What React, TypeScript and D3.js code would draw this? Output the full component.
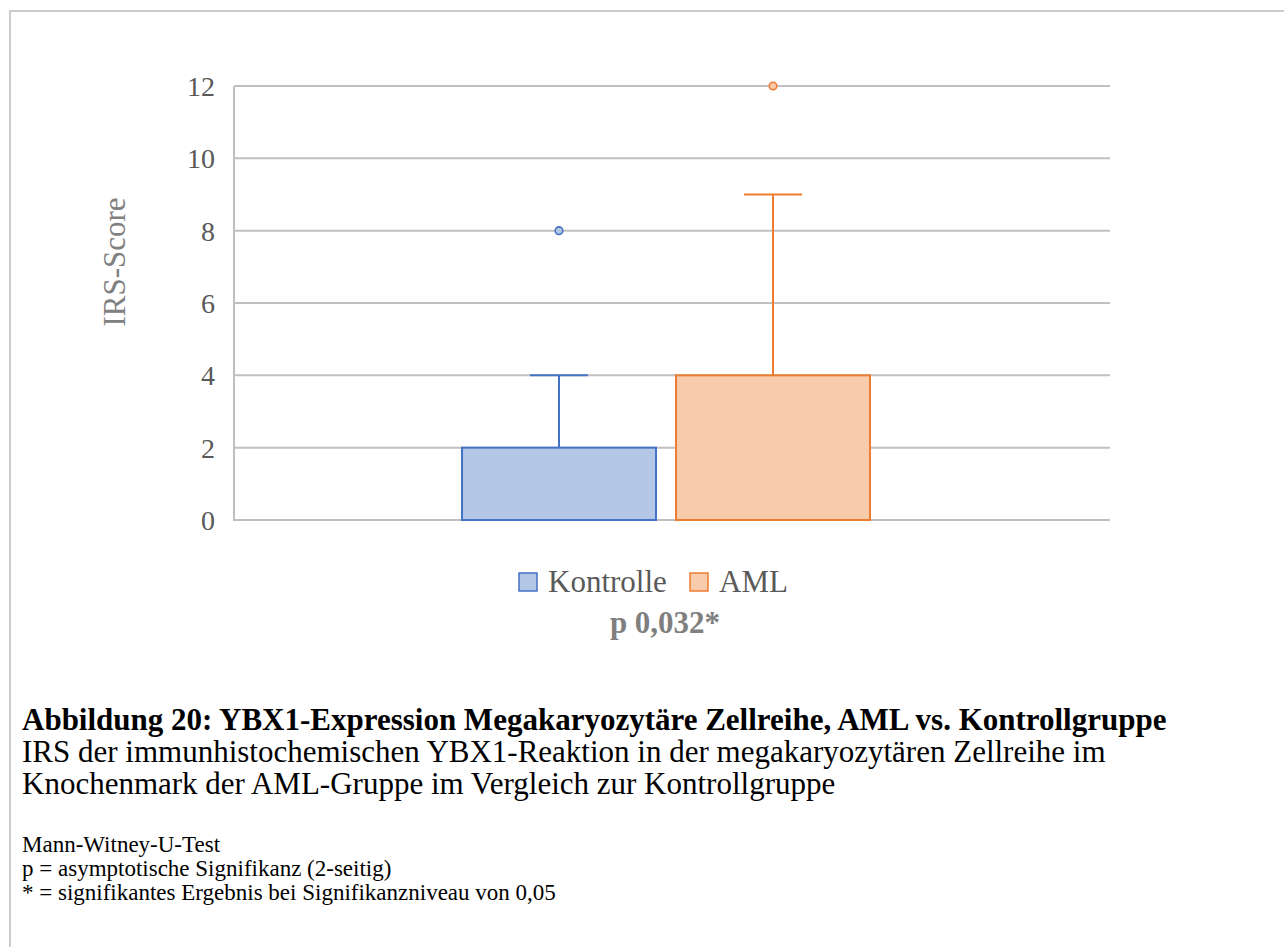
import React from "react";
import * as d3 from "d3";

const series = ["Kontrolle", "AML"];
const q1 = [0, 0];
const median = [0, 0];
const q3 = [2, 4];
const whiskerMin = [0, 0];
const whiskerMax = [4, 9];
const outliers = [[8], [12]];
const yTicks = [0, 2, 4, 6, 8, 10, 12];
const strokeColors = ["#4472c4", "#ed7d31"];
const fillColors = ["#b4c7e7", "#f8cbad"];
const pValue = "p 0,032*";
const captionTitle = "Abbildung 20: YBX1-Expression Megakaryozytäre Zellreihe, AML vs. Kontrollgruppe";
const captionLines = [
  "IRS der immunhistochemischen YBX1-Reaktion in der megakaryozytären Zellreihe im",
  "Knochenmark der AML-Gruppe im Vergleich zur Kontrollgruppe",
];
const notes = [
  "Mann-Witney-U-Test",
  "p = asymptotische Signifikanz (2-seitig)",
  "* = signifikantes Ergebnis bei Signifikanzniveau von 0,05",
];

export default function App() {
  const W = 1284, H = 947;
  const left = 234, right = 1110, top = 86, bottom = 520;
  const y = d3.scaleLinear().domain([0, 12]).range([bottom, top]);
  const x = d3.scaleBand<string>().domain(series).range([left - 6, right - 6]).paddingInner(0.0935).paddingOuter(1.0935);
  const bw = x.bandwidth();
  const capW = 58;
  const font = "'Liberation Serif', 'Times New Roman', serif";

  return (
    <svg width={W} height={H} style={{ position: "absolute", left: 0, top: 0, background: "#fff" }} fontFamily={font}>
      {/* page frame */}
      <line x1={10} y1={11} x2={10} y2={H} stroke="#cccccc" strokeWidth={2} />
      <line x1={9} y1={11} x2={W} y2={11} stroke="#cccccc" strokeWidth={2} />

      {/* gridlines */}
      {yTicks.map((t) => (
        <line key={t} x1={left} x2={right} y1={y(t)} y2={y(t)} stroke="#c0c0c0" strokeWidth={2} />
      ))}
      <line x1={left} x2={left} y1={top} y2={bottom + 1} stroke="#c0c0c0" strokeWidth={2} />

      {/* tick labels */}
      {yTicks.map((t) => (
        <text key={t} x={215} y={y(t) + 10} textAnchor="end" fontSize={28} fill="#595959">{t}</text>
      ))}
      <text transform={`translate(125,262) rotate(-90)`} textAnchor="middle" fontSize={31} fill="#808080">IRS-Score</text>

      {/* boxes */}
      {series.map((s, i) => {
        const x0 = x(s)!;
        const cx = x0 + bw / 2;
        return (
          <g key={s}>
            <line x1={cx} x2={cx} y1={y(q3[i])} y2={y(whiskerMax[i])} stroke={strokeColors[i]} strokeWidth={2} />
            <line x1={cx - capW / 2} x2={cx + capW / 2} y1={y(whiskerMax[i])} y2={y(whiskerMax[i])} stroke={strokeColors[i]} strokeWidth={2} />
            <line x1={cx} x2={cx} y1={y(q1[i])} y2={y(whiskerMin[i])} stroke={strokeColors[i]} strokeWidth={2} />
            <rect x={x0} y={y(q3[i])} width={bw} height={y(q1[i]) - y(q3[i])} fill={fillColors[i]} stroke={strokeColors[i]} strokeWidth={2} />
            <line x1={x0} x2={x0 + bw} y1={y(median[i])} y2={y(median[i])} stroke={strokeColors[i]} strokeWidth={2} />
            {outliers[i].map((o, j) => (
              <circle key={j} cx={cx} cy={y(o)} r={3.8} fill={fillColors[i]} stroke={strokeColors[i]} strokeWidth={1.6} />
            ))}
          </g>
        );
      })}

      {/* legend */}
      <rect x={519} y={573} width={18} height={18} fill={fillColors[0]} stroke={strokeColors[0]} strokeWidth={1.5} />
      <text x={548} y={592} fontSize={31} fill="#595959">{series[0]}</text>
      <rect x={690} y={573} width={18} height={18} fill={fillColors[1]} stroke={strokeColors[1]} strokeWidth={1.5} />
      <text x={719} y={592} fontSize={31} fill="#595959">{series[1]}</text>
      <text x={665} y={633} textAnchor="middle" fontSize={31} fontWeight="bold" fill="#7f7f7f">{pValue}</text>

      {/* caption */}
      <text x={22} y={730} fontSize={31} fontWeight="bold" fill="#000">{captionTitle}</text>
      {captionLines.map((l, i) => (
        <text key={i} x={22} y={762 + i * 32} fontSize={31} fill="#000">{l}</text>
      ))}
      {notes.map((l, i) => (
        <text key={i} x={22} y={852 + i * 24} fontSize={23} fill="#000">{l}</text>
      ))}
    </svg>
  );
}
